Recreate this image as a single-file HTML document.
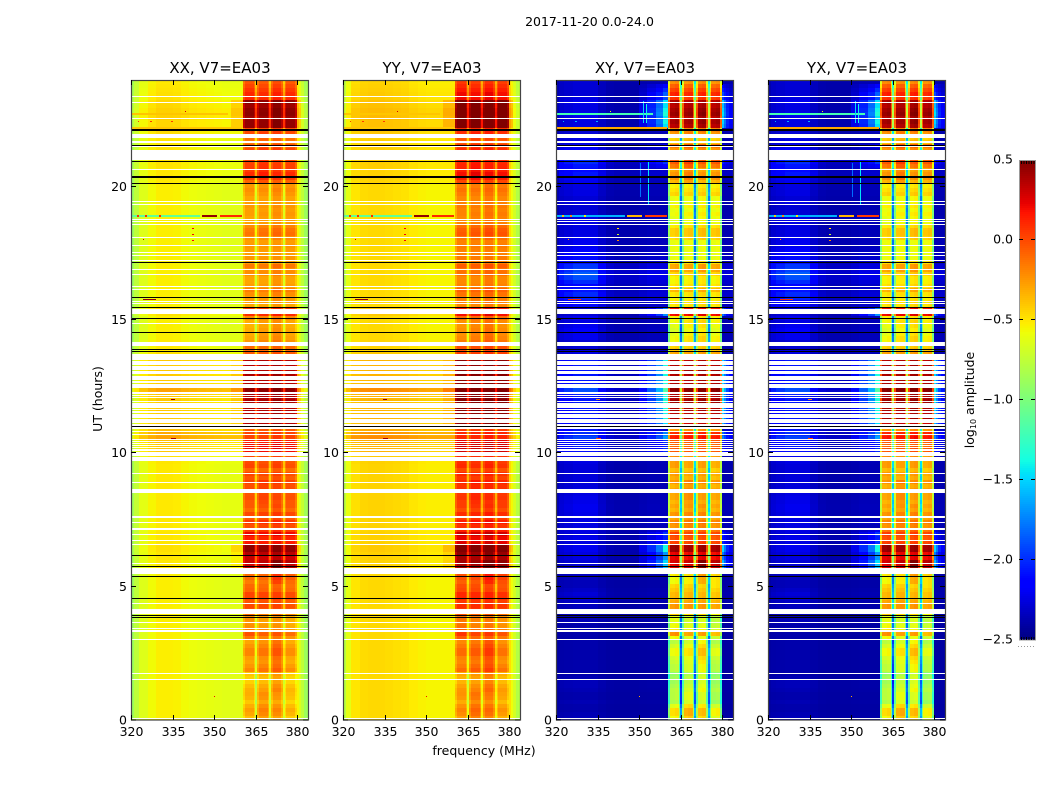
<!DOCTYPE html>
<html lang="en">
<head>
<meta charset="utf-8">
<title>2017-11-20 0.0-24.0</title>
<style>
html,body{margin:0;padding:0;background:#fff}
svg{display:block}
text{font-family:"DejaVu Sans","Liberation Sans",sans-serif;fill:#000}
</style>
</head>
<body>
<svg id="chart" xmlns="http://www.w3.org/2000/svg" width="1050" height="800" viewBox="0 0 1050 800">
  <rect x="0" y="0" width="1050" height="800" fill="#fff"/>
  <text x="589.5" y="26" text-anchor="middle" font-size="12.5">2017-11-20 0.0-24.0</text>
  <text x="484" y="755" text-anchor="middle" font-size="12.5">frequency (MHz)</text>
  <text transform="translate(102 399) rotate(-90)" text-anchor="middle" font-size="12.5">UT (hours)</text>
  <text transform="translate(974 400) rotate(-90)" text-anchor="middle" font-size="12.5">log<tspan font-size="8" dy="2">10</tspan><tspan dy="-2"> amplitude</tspan></text>
</svg>
<script>
// ---------- chart data ----------
const panelTitles = ["XX, V7=EA03", "YY, V7=EA03", "XY, V7=EA03", "YX, V7=EA03"];
const panelKinds = ["par", "par", "cross", "cross"];
const panelBandShift = [0, 0.09, 0, 0.01];
const xTickValues = [320, 335, 350, 365, 380];
const yTickValues = [0, 5, 10, 15, 20];
const colorbarTicks = [0.5, 0, -0.5, -1, -1.5, -2, -2.5];
const colorbarLabels = ["0.5", "0.0", "\u22120.5", "\u22121.0", "\u22121.5", "\u22122.0", "\u22122.5"];

// frequency bin edges (MHz)
const freqEdges = [320, 321, 323, 326, 329, 332, 335, 338, 341, 344, 347, 350, 353, 356, 358.5, 360.5,
  361.1, 363, 364.4, 364.9, 365.6, 366.1, 367.8, 369.3, 369.8, 370.6, 371.1, 372.8, 374.3, 374.8, 375.5,
  376, 377.7, 379.3, 379.8, 380.5, 381.5, 382.5, 383.9];
// log10 amplitude of each frequency bin: outside the band absolute, inside the band relative to the row level
const profileXX = [-.88,-.76,-.64,-.57,-.53,-.53,-.54,-.57,-.59,-.6,-.61,-.62,-.63,-.63,-.63,
  -.12,0,0,-.12,-.4,-.12,0,0,-.12,-.4,-.1,.02,.02,-.1,-.4,-.12,0,0,-.12,
  -.55,-.65,-.75,-.88];
const profileYY = [-.78,-.62,-.5,-.47,-.46,-.46,-.47,-.48,-.49,-.52,-.54,-.55,-.55,-.55,-.55,
  -.12,0,0,-.12,-.4,-.12,0,0,-.12,-.4,-.1,.02,.02,-.1,-.4,-.12,0,0,-.12,
  -.48,-.58,-.68,-.8];
const profileCross = [0,0,0,0,0,0,0,0,0,0,0,.15,.35,.6,1,
  -.4,.04,.07,-.4,-1.15,-.4,.04,.07,-.4,-1.15,-.4,.04,.07,-.4,-1.15,-.4,.04,.07,-.4,
  .9,.6,.35,.2];
const crossPatch = [.2,.5,.6,.7,.7,.7,.4,.2,.15,.15,.15,.2,.25,.25,.25,
  0,0,0,0,0,0,0,0,0,0,0,0,0,0,0,0,0,0,0,
  .2,.2,.2,.2];

const rowStepHours = 0.15;
// in-band level of the parallel hands, one value per row from 0 h upward
const parBandLevel = [
 -.32,-.25,-.22,-.27,-.35,-.29,-.27,-.25,-.29,-.35,
 -.35,-.32,-.12,-.17,-.27,-.25,-.17,-.17,-.22,-.27,
 -.19,-.07,-.22,-.27,-.29,-.27,-.17,-.05,-.03,-.06,
 -.01,-.01,-.11,-.13,-.11,-.06,-.06,-.06,.35,.37,
 .3,.35,.45,.45,.15,.12,.2,.05,-.02,.05,
 -.05,0,-.1,-.05,-.05,-.02,-.03,0,-.02,.02,
 -.05,0,-.1,0,-.02,0,.25,.2,.2,.15,
 .02,.02,-.05,.1,.38,.38,.38,.38,.38,.4,
 .38,.4,.47,.47,.38,.38,.4,.38,.38,.38,
 .38,-.05,-.1,-.1,-.2,-.25,-.27,-.27,-.29,-.27,
 -.2,.1,.05,-.29,-.27,-.27,-.22,-.17,-.27,-.29,
 -.29,-.22,-.22,-.15,-.27,-.25,-.27,-.27,-.25,-.27,
 -.22,-.12,-.14,-.19,-.27,-.27,-.25,-.27,-.25,-.27,
 -.29,-.25,-.22,-.25,-.08,.05,.1,.05,.03,.02,
 .02,0,0,-.05,-.15,-.12,0,0,.45,.45,
 .42,.47,.46,.42,.45,.1,.1,.05,0,-.05];
// out-of-band shift of the parallel hands
const parOutShift = [
 0,0,0,0,0,0,0,0,0,0,
 0,0,0,0,0,0,0,0,0,0,
 0,0,0,0,0,0,0,0,0,0,
 0,0,0,0,0,0,0,0,.02,.02,
 .03,.03,.05,.05,.03,.03,.03,.02,.02,.02,
 .02,.02,.02,.02,.02,.02,.02,.02,.02,.02,
 .02,.02,.02,.02,.03,.05,.12,.12,.12,.15,
 .25,.22,.15,.15,.12,.12,.12,.12,.12,.12,
 .12,.15,.25,.25,.12,.12,.12,.12,.12,.12,
 .12,.05,.02,.02,.02,0,0,0,0,0,
 0,.05,.05,0,0,0,0,0,0,0,
 0,0,0,0,0,0,0,0,0,0,
 0,0,0,0,0,0,0,0,0,0,
 0,0,0,0,.02,.03,.03,.03,.04,.04,
 .04,.04,.04,.03,.03,.03,.06,.06,.08,.08,
 .1,.1,.1,.08,.08,.05,.05,.04,.03,.02];
// in-band level of the cross hands
const crossBandLevel = [
 -.55,-.45,-.45,-.6,-.8,-.75,-.75,-.7,-.75,-.8,
 -.8,-.85,-.7,-.7,-.75,-.7,-.6,-.6,-.7,-.8,
 -.7,-.35,-.65,-.7,-.75,-.75,-.55,-.35,-.35,-.4,
 -.45,-.45,-.5,-.55,-.55,-.55,-.5,-.5,.25,.3,
 .15,.15,.35,.35,-.05,-.1,-.05,-.2,-.3,-.25,
 -.35,-.3,-.4,-.35,-.4,-.35,-.35,-.35,-.4,-.3,
 -.4,-.35,-.45,-.35,-.35,-.3,-.1,-.1,-.15,-.1,
 .1,.05,-.3,-.1,.25,.33,.3,.33,.33,.37,
 .33,.33,.42,.42,.33,.3,.33,.37,.33,.3,
 .25,-.35,-.45,-.5,-.55,-.55,-.6,-.65,-.6,-.55,
 -.6,.15,.1,-.55,-.55,-.6,-.55,-.4,-.55,-.6,
 -.6,-.5,-.35,-.35,-.55,-.65,-.65,-.65,-.65,-.65,
 -.5,-.45,-.45,-.55,-.65,-.65,-.6,-.65,-.6,-.65,
 -.65,-.5,-.55,-.6,-.4,-.3,-.3,-.35,-.2,-.1,
 -.3,-.3,-.3,-.2,-.45,-.5,-.3,-.25,.3,.35,
 .3,.38,.35,.3,.3,0,.05,-.05,-.15,-.3];
// strength of the diffuse out-of-band signal in the cross hands
const crossDiffuse = [
 .1,.08,.05,.05,.08,.05,.05,.08,.1,.1,
 .08,.05,.05,.05,.05,.05,.05,.05,.05,.05,
 .05,.05,.05,.05,.08,.08,.1,.1,.12,.15,
 .15,.2,.15,.1,.1,.12,.12,.12,.2,.2,
 .25,.25,.3,.3,.25,.28,.25,.25,.25,.25,
 .25,.28,.3,.3,.28,.28,.25,.25,.22,.22,
 .22,.22,.22,.22,.25,.3,.45,.45,.5,.45,
 .7,.6,.5,.5,.5,.5,.5,.5,.5,.5,
 .5,.55,.75,.75,.5,.5,.5,.5,.5,.5,
 .5,.25,.2,.2,.2,.3,.3,.35,.3,.25,
 .3,.2,.2,.45,.4,.55,.6,.5,.4,.6,
 .75,.8,.7,.65,.5,.45,.4,.35,.3,.3,
 .3,.25,.25,.25,.25,.25,.2,.2,.2,.25,
 .2,.25,.25,.25,.3,.4,.5,.45,.5,.6,
 .5,.5,.4,.3,.25,.25,.2,.2,.25,.25,
 .3,.3,.25,.25,.3,.25,.2,.2,.2,.2];
// hourly level offset of each of the four sub-bands
const subbandOne = [-.05,-.08,-.02,.05,.03,-.05,.02,0,0,.02,0,0,0,0,-.05,0,0,0,-.02,0,0,0,0,.02];
const subbandTwo = [.05,-.02,.03,0,.03,-.03,0,.03,.05,0,0,0,0,0,0,0,0,0,0,0,.05,.05,0,0];
const subbandThree = [.02,.05,.12,.02,.03,.12,.02,.04,.02,.02,.02,.02,.02,.02,.04,.03,.03,0,.02,.02,0,.03,.03,.02];
const subbandFour = [-.1,-.1,-.05,-.05,0,0,0,0,0,-.02,0,0,0,0,-.03,0,0,0,0,0,0,0,0,0];
const subbandEdges = [360.5, 365.3, 370.2, 375.2, 379.8];

// flagged (blank) time ranges in hours
const gapStart = [23.35,23.13,22.53,21.84,21.68,21.62,21.49,20.99,20.63,19.43,19.33,18.77,18.68,18.57,18.08,17.76,17.50,17.39,17.22,16.89,16.70,16.23,16.13,15.68,15.60,15.23,14.86,14.03,13.66,13.50,13.31,13.13,12.98,12.75,12.64,12.54,12.46,12.27,12.21,12.15,12.08,11.91,11.70,11.61,11.51,11.33,11.13,11.03,10.96,10.90,10.80,10.69,10.51,10.43,10.35,10.28,10.19,10.09,9.90,9.70,9.24,8.89,8.51,7.59,7.40,7.14,6.95,6.72,6.57,5.85,5.48,4.35,3.99,3.65,3.44,3.31,3.01,1.74,1.50,0.05];
const gapEnd = [23.40,23.18,22.58,21.98,21.71,21.66,21.53,21.38,20.65,19.46,19.36,18.80,18.70,18.60,18.10,17.80,17.54,17.43,17.25,16.91,16.73,16.26,16.16,15.70,15.63,15.42,14.88,14.19,13.73,13.64,13.47,13.29,13.09,12.90,12.72,12.61,12.51,12.31,12.25,12.19,12.12,11.97,11.88,11.66,11.59,11.49,11.30,11.10,11.00,10.94,10.85,10.73,10.54,10.47,10.40,10.32,10.25,10.16,10.06,9.86,9.26,8.93,8.66,7.65,7.43,7.20,6.98,6.75,6.60,5.88,5.71,4.38,4.16,3.68,3.46,3.36,3.04,1.76,1.53,0.09];
// fully black time ranges in hours
const blackStart = [22.07,21.54,20.95,20.34,20.10,17.14,15.83,15.46,15.04,14.52,13.88,13.81,11.00,6.16,5.74,5.37,4.55,3.91,3.84];
const blackEnd = [22.15,21.57,20.97,20.39,20.13,17.16,15.85,15.49,15.06,14.55,13.90,13.84,11.03,6.19,5.76,5.40,4.58,3.94,3.86];

// narrow-band interference events
const eventHour = [18.87,18.87,18.87,18.87,18.87,18.87,22.70,22.17,16.87,15.74,12.00,10.53,0.85,22.80,18.40,18.20,17.95,18.00,18.68,22.43,22.43,22.43];
const eventHourSpan = [.05,.05,.05,.05,.05,.05,.05,.05,.06,.05,.05,.05,.04,.05,.04,.04,.04,.04,.04,.04,.04,.04];
const eventFreqStart = [320.5,322.3,325,330,345.5,352,320.5,320.5,334,324.5,334.5,334.5,349.8,339.5,342.2,342.2,342.2,324.2,335.3,322.5,327,334.5];
const eventFreqEnd = [345,323,325.7,330.7,351,360,355,360,338.7,329,336,336.3,350.2,340,342.6,342.6,342.6,324.6,335.7,323,327.5,335];
const eventParValue = [-1.1,.1,.1,.1,.45,.1,-.4,-.4,.45,.45,.45,.4,.2,.3,.2,.2,.2,.3,.3,.05,.05,.05];
const eventCrossValue = [-1.6,-.4,-.2,-.5,-.35,.05,-1.2,-.3,0,.1,-.2,0,-.3,-.6,-.5,-.7,-.2,-.2,-1.3,-1.6,-1.6,-1.6];
// vertical streaks seen only in the cross hands
const streakFreq = [353.2,351.4,352.6,350.4];
const streakFrom = [19.3,22.4,22.4,19.6];
const streakTo = [20.95,23.2,23.1,20.9];
const streakValue = [-1.45,-1.5,-1.4,-1.8];

// ---------- scales ----------
const svg = document.getElementById('chart');
const NS = 'http://www.w3.org/2000/svg';
const axisLeft = [131, 343, 556, 768];
const axisWidth = 177;
const axisTop = 80;
const axisBottom = 720;
const hourMax = 24;
const freqMin = 320;
const freqMax = 383.9;
const cbarLeft = 1019;
const cbarWidth = 16;
const cbarTop = 160;
const cbarBottom = 640;
const vMin = -2.5;
const vMax = 0.5;

function xScale(panel, f) { return axisLeft[panel] + (f - freqMin) / (freqMax - freqMin) * axisWidth; }
function yScale(h) { return axisBottom - h / hourMax * (axisBottom - axisTop); }
function cbarScale(v) { return cbarBottom - (v - vMin) / (vMax - vMin) * (cbarBottom - cbarTop); }

function interp(pts, t) {
  for (let i = 1; i < pts.length; i++) {
    if (t <= pts[i][0]) {
      const a = pts[i - 1], b = pts[i];
      return a[1] + (b[1] - a[1]) * (t - a[0]) / (b[0] - a[0]);
    }
  }
  return pts[pts.length - 1][1];
}
const jetR = [[0,0],[.35,0],[.66,1],[.89,1],[1,.5]];
const jetG = [[0,0],[.125,0],[.375,1],[.64,1],[.91,0],[1,0]];
const jetB = [[0,.5],[.11,1],[.34,1],[.65,0],[1,0]];
function colorOf(v) {
  const t = Math.min(1, Math.max(0, (v - vMin) / (vMax - vMin)));
  return 'rgb(' + Math.round(255 * interp(jetR, t)) + ',' + Math.round(255 * interp(jetG, t)) + ',' + Math.round(255 * interp(jetB, t)) + ')';
}
function makeRect(parent, x, y, w, h, fill) {
  const r = document.createElementNS(NS, 'rect');
  r.setAttribute('x', x);
  r.setAttribute('y', y);
  r.setAttribute('width', w);
  r.setAttribute('height', h);
  r.setAttribute('fill', fill);
  parent.appendChild(r);
  return r;
}
function makeLine(parent, x1, y1, x2, y2, color) {
  const l = document.createElementNS(NS, 'line');
  l.setAttribute('x1', x1);
  l.setAttribute('y1', y1);
  l.setAttribute('x2', x2);
  l.setAttribute('y2', y2);
  l.setAttribute('stroke', color);
  l.setAttribute('stroke-width', 1);
  parent.appendChild(l);
  return l;
}
function makeText(parent, x, y, anchor, size, content) {
  const t = document.createElementNS(NS, 'text');
  t.setAttribute('x', x);
  t.setAttribute('y', y);
  t.setAttribute('text-anchor', anchor);
  t.setAttribute('font-size', size);
  t.textContent = content;
  parent.appendChild(t);
  return t;
}
function subbandOffset(freq, hour) {
  const tracks = [subbandOne, subbandTwo, subbandThree, subbandFour];
  for (let s = 0; s < 4; s++) {
    if (freq < subbandEdges[s + 1]) return tracks[s][Math.min(23, Math.floor(hour))];
  }
  return 0;
}
function cellValue(panel, row, col) {
  const kind = panelKinds[panel];
  const f0 = freqEdges[col], f1 = freqEdges[col + 1];
  const mid = (f0 + f1) / 2;
  const hour = row * rowStepHours;
  const inBand = f0 >= 360.5 && f1 <= 379.8;
  if (kind === 'par') {
    const profile = panel === 0 ? profileXX : profileYY;
    if (inBand) return parBandLevel[row] + profile[col] + subbandOffset(mid, hour) + panelBandShift[panel];
    return profile[col] + parOutShift[row] + Math.max(0, parBandLevel[row] - 0.2) * (mid > 356 && mid < 382 ? 0.5 : 0);
  }
  if (inBand) return crossBandLevel[row] + profileCross[col] + subbandOffset(mid, hour) * 1.5 + panelBandShift[panel];
  const glow = Math.max(0, crossBandLevel[row] + 0.3);
  return -2.42 + crossDiffuse[row] * crossPatch[col] + profileCross[col] * 1.5 * glow;
}

// ---------- panels ----------
panelTitles.forEach(function (title, p) {
  const g = document.createElementNS(NS, 'g');
  
  
  svg.appendChild(g);

  const cells = document.createElementNS(NS, 'g');
  
  
  g.appendChild(cells);
  for (let row = 0; row < parBandLevel.length; row++) {
    const yTop = Math.round(yScale((row + 1) * rowStepHours));
    const yBot = Math.round(yScale(row * rowStepHours));
    for (let col = 0; col < freqEdges.length - 1; col++) {
      const x0 = Math.round(xScale(p, freqEdges[col]));
      const x1 = Math.round(xScale(p, freqEdges[col + 1]));
      const cell = makeRect(cells, x0, yTop, Math.max(1, x1 - x0), yBot - yTop, colorOf(cellValue(p, row, col)));
      
      
    }
  }

  const events = document.createElementNS(NS, 'g');
  
  
  g.appendChild(events);
  eventHour.forEach(function (hour, i) {
    const value = panelKinds[p] === 'par' ? eventParValue[i] : eventCrossValue[i];
    const x0 = Math.round(xScale(p, eventFreqStart[i]));
    const x1 = Math.round(xScale(p, eventFreqEnd[i]));
    const y0 = Math.round(yScale(hour + eventHourSpan[i]));
    const y1 = Math.round(yScale(hour));
    const ev = makeRect(events, x0, y0, Math.max(1, x1 - x0), Math.max(1, y1 - y0), colorOf(value));
    
    
  });
  if (panelKinds[p] === 'cross') {
    streakFreq.forEach(function (freq, i) {
      const y0 = Math.round(yScale(streakTo[i]));
      const y1 = Math.round(yScale(streakFrom[i]));
      const st = makeRect(events, Math.round(xScale(p, freq)), y0, 1, y1 - y0, colorOf(streakValue[i]));
      
      
    });
  }

  const bands = document.createElementNS(NS, 'g');
  
  
  g.appendChild(bands);
  gapStart.forEach(function (start, i) {
    const y0 = Math.round(yScale(gapEnd[i]));
    const y1 = Math.round(yScale(start));
    const gap = makeRect(bands, axisLeft[p] + 1, y0, axisWidth - 1, Math.max(1, y1 - y0), '#fff');
    
    
  });
  blackStart.forEach(function (start, i) {
    const y0 = Math.round(yScale(blackEnd[i]));
    const y1 = Math.round(yScale(start));
    const bar = makeRect(bands, axisLeft[p] + 1, y0, axisWidth - 1, Math.max(1, y1 - y0), '#000');
    
    
  });

  const frame = makeRect(g, axisLeft[p] + 0.5, axisTop + 0.5, axisWidth, axisBottom - axisTop - 0.5, 'none');
  frame.setAttribute('stroke', '#444');
  frame.setAttribute('stroke-width', '1.2');
  
  

  const heading = makeText(g, axisLeft[p] + axisWidth / 2 + 0.5, 73, 'middle', 15, title);
  
  

  xTickValues.forEach(function (v) {
    const x = Math.round(xScale(p, v)) + 0.5;
    const t1 = makeLine(g, x, axisBottom, x, axisBottom - 5, '#000');
    
    
    const t2 = makeLine(g, x, axisTop, x, axisTop + 5, '#000');
    
    
    const lab = makeText(g, x, 736, 'middle', 12.5, String(v));
    
    
  });
  yTickValues.forEach(function (v) {
    const y = Math.round(yScale(v)) - (v === 0 ? 0 : 0.5);
    const t1 = makeLine(g, axisLeft[p], y, axisLeft[p] + 5, y, '#000');
    
    
    const t2 = makeLine(g, axisLeft[p] + axisWidth, y, axisLeft[p] + axisWidth - 5, y, '#000');
    
    
    const lab = makeText(g, axisLeft[p] - 4, y + 4.5, 'end', 12.5, String(v));
    
    
  });
});

// ---------- colorbar ----------
const cbar = document.createElementNS(NS, 'g');


svg.appendChild(cbar);
for (let py = cbarTop; py < cbarBottom; py += 2) {
  const v = vMax - (py + 1 - cbarTop) / (cbarBottom - cbarTop) * (vMax - vMin);
  const swatch = makeRect(cbar, cbarLeft, py, cbarWidth, 2, colorOf(v));
  
  
}
const cbarFrame = makeRect(cbar, cbarLeft + 0.5, cbarTop + 0.5, cbarWidth, cbarBottom - cbarTop - 0.5, 'none');
cbarFrame.setAttribute('stroke', '#999');
cbarFrame.setAttribute('stroke-width', '1');


colorbarTicks.forEach(function (v, i) {
  const y = Math.round(cbarScale(v)) - 0.5;
  const lab = makeText(cbar, cbarLeft - 6, y + 4, 'end', 12.5, colorbarLabels[i]);
  
  
  if (i === 0 || i === colorbarTicks.length - 1) return;
  const t1 = makeLine(cbar, cbarLeft, y, cbarLeft + 4, y, '#000');
  
  
  const t2 = makeLine(cbar, cbarLeft + cbarWidth, y, cbarLeft + cbarWidth - 4, y, '#000');
  
  
});
for (let k = 0; k < 6; k++) {
  const x = cbarLeft + 2.5 + k * 2.5;
  const topTick = makeLine(cbar, x, cbarTop + 1, x, cbarTop + 4, '#000');
  
  
  const botTick = makeLine(cbar, x, cbarBottom, x, cbarBottom - 3, '#000');
  
  
  const dot = makeRect(cbar, cbarLeft - 1 + k * 3, 646, 1, 1, '#999');
  
  
}
</script>
</body>
</html>
